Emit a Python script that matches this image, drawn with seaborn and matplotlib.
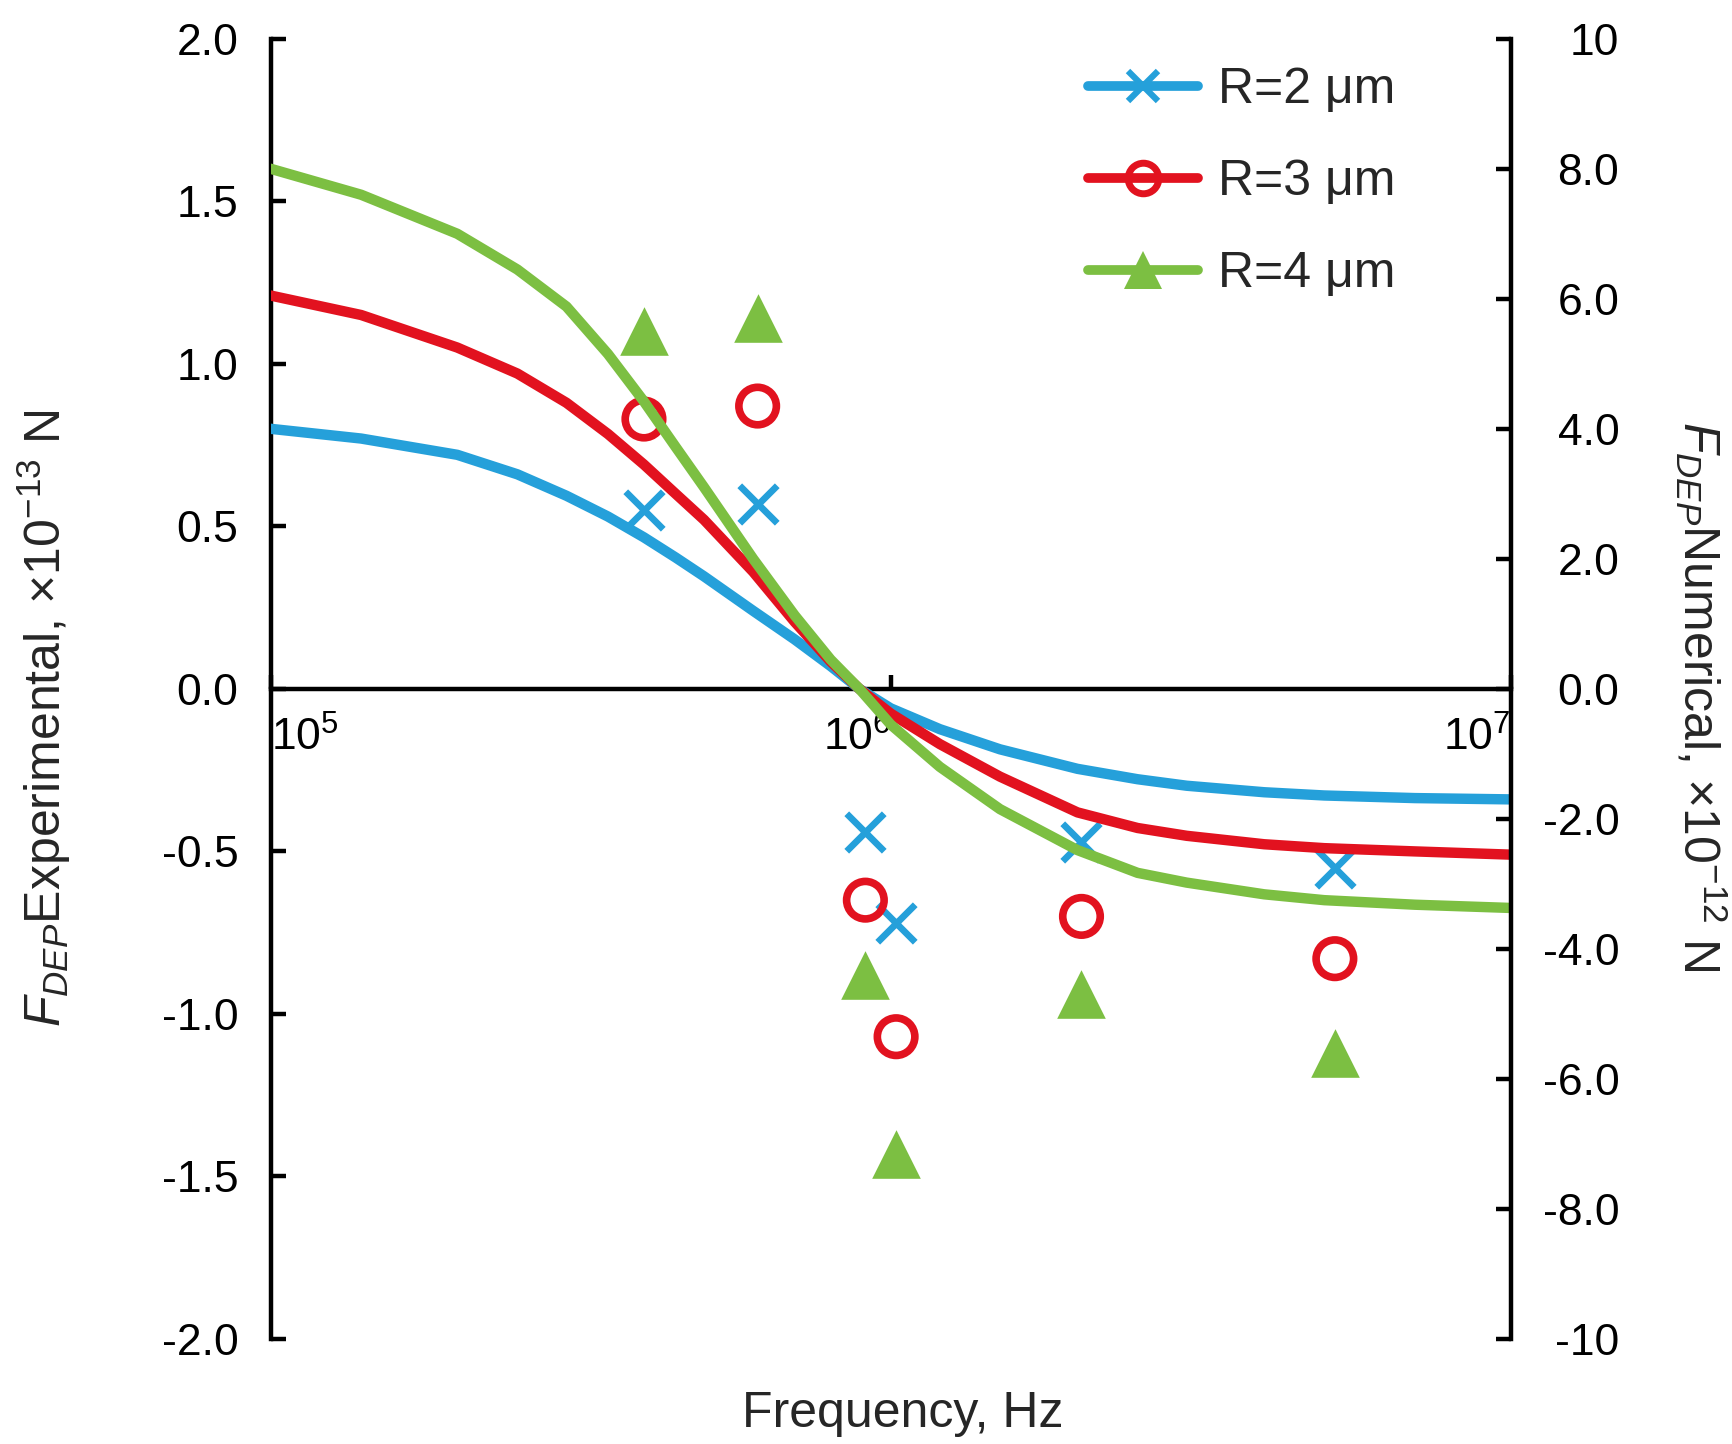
import numpy as np
import pandas as pd
import matplotlib
matplotlib.use("Agg")
import matplotlib.pyplot as plt
from matplotlib.lines import Line2D
import seaborn as sns

# numerical curves (right axis, x10^-12 N)
freq_num = [1e5, 1.4e5, 2e5, 2.5e5, 3e5, 3.5e5, 4e5, 4.5e5, 5e5, 6e5, 7e5, 8e5, 8.9e5,
            1e6, 1.2e6, 1.5e6, 2e6, 2.5e6, 3e6, 4e6, 5e6, 7e6, 1e7]
num_r2 = [4.00, 3.85, 3.60, 3.30, 2.97, 2.65, 2.33, 2.02, 1.73, 1.20, 0.76, 0.35, 0.0,
          -0.30, -0.62, -0.93, -1.23, -1.39, -1.49, -1.59, -1.64, -1.68, -1.70]
num_r3 = [6.05, 5.75, 5.25, 4.85, 4.40, 3.92, 3.45, 3.00, 2.60, 1.80, 1.03, 0.42, 0.0,
          -0.38, -0.85, -1.35, -1.90, -2.14, -2.26, -2.39, -2.45, -2.50, -2.55]
num_r4 = [8.00, 7.60, 7.00, 6.45, 5.88, 5.15, 4.42, 3.72, 3.10, 2.00, 1.13, 0.45, 0.0,
          -0.55, -1.20, -1.85, -2.48, -2.83, -2.98, -3.16, -3.25, -3.32, -3.37]

# experimental points (left axis, x10^-13 N)
freq_exp = [4.0e5, 6.1e5, 9.1e5, 1.02e6, 2.03e6, 5.2e6]
exp_r2 = [0.55, 0.57, -0.44, -0.72, -0.47, -0.55]
exp_r3 = [0.83, 0.87, -0.65, -1.07, -0.70, -0.83]
exp_r4 = [1.10, 1.14, -0.88, -1.43, -0.94, -1.12]

labels = ["R=2 μm", "R=3 μm", "R=4 μm"]
colors = ["#25a0da", "#e2121f", "#7cbf42"]

left_ticks = [-2.0, -1.5, -1.0, -0.5, 0.0, 0.5, 1.0, 1.5, 2.0]
right_ticks = [-10, -8, -6, -4, -2, 0, 2, 4, 6, 8, 10]
right_ticklabels = ["-10", "-8.0", "-6.0", "-4.0", "-2.0", "0.0", "2.0", "4.0", "6.0", "8.0", "10"]

sns.set_theme(style="white")
plt.rcParams["font.family"] = ["Liberation Sans", "DejaVu Sans"]
plt.rcParams["mathtext.fontset"] = "custom"
plt.rcParams["mathtext.rm"] = "Liberation Sans"
plt.rcParams["mathtext.it"] = "Liberation Sans:italic"
plt.rcParams["axes.unicode_minus"] = False

FS = 32      # tick labels
FL = 36      # axis titles and legend
lw_ax = 3.2

fig = plt.figure(figsize=(17.32, 14.44), dpi=100)
ax = fig.add_axes([0.1562, 0.0727, 0.7162, 0.9005])
ax.set_xscale("log")
ax2 = ax.twinx()

num = pd.DataFrame({
    "freq": freq_num * 3,
    "val": num_r2 + num_r3 + num_r4,
    "series": [labels[0]] * len(freq_num) + [labels[1]] * len(freq_num) + [labels[2]] * len(freq_num),
})
sns.lineplot(data=num, x="freq", y="val", hue="series", palette=dict(zip(labels, colors)),
             estimator=None, sort=False, linewidth=7.5, legend=False, ax=ax2)

# experimental markers
sns.scatterplot(x=freq_exp, y=exp_r2, marker="x", s=27 ** 2, color=colors[0], linewidth=4.8, ax=ax)
sns.scatterplot(x=freq_exp, y=exp_r3, marker="o", s=27 ** 2, facecolor="none", edgecolor=colors[1],
                linewidth=5.5, ax=ax)
sns.scatterplot(x=freq_exp, y=exp_r4, marker="^", s=35 ** 2, color=colors[2], linewidth=0, ax=ax)

ax.set_xlim(1e5, 1e7)
ax.set_ylim(-2, 2)
ax2.set_ylim(-10, 10)
ax.set_xlabel("")
ax.set_ylabel("")
ax2.set_ylabel("")

# spines
ax.spines["top"].set_visible(False)
ax2.spines["top"].set_visible(False)
ax2.spines["bottom"].set_visible(False)
ax2.spines["left"].set_visible(False)
ax.spines["right"].set_visible(False)
ax.spines["bottom"].set_position(("data", 0))
for s in [ax.spines["left"], ax.spines["bottom"], ax2.spines["right"]]:
    s.set_color("black")
    s.set_linewidth(lw_ax)

# x ticks
ax.set_xticks([1e5, 1e6, 1e7])
ax.xaxis.set_minor_locator(matplotlib.ticker.NullLocator())
ax.set_xticklabels([r"$10^{5}$", r"$10^{6}$", r"$10^{7}$"])
ax.tick_params(axis="x", direction="in", length=10, width=lw_ax, pad=20, labelsize=FS, colors="black",
               bottom=True)
xt = ax.get_xticklabels()
xt[0].set_ha("left")
xt[1].set_ha("right")
xt[2].set_ha("right")

# left y
ax.set_yticks(left_ticks)
ax.set_yticklabels([f"{v:.1f}" for v in left_ticks])
ax.tick_params(axis="y", direction="in", length=11, width=lw_ax, pad=23, labelsize=FS, colors="black",
               left=True)

# right y
ax2.set_yticks(right_ticks)
ax2.set_yticklabels(right_ticklabels)
ax2.tick_params(axis="y", direction="in", length=11, width=lw_ax, pad=78, labelsize=FS, colors="black",
                right=True)
for t in ax2.get_yticklabels():
    t.set_ha("right")
ax.grid(False)
ax2.grid(False)

fig.text(903 / 1732, 1 - 1414 / 1444, "Frequency, Hz", fontsize=FL, ha="center", va="center")
fig.text(44 / 1732, 1 - 718 / 1444, r"$F_{DEP}$Experimental, ×10$^{-13}$ N", fontsize=FL,
         rotation=90, ha="center", va="center")
fig.text(1701 / 1732, 1 - 696 / 1444, r"$F_{DEP}$Numerical, ×10$^{-12}$ N", fontsize=FL,
         rotation=270, ha="center", va="center")

handles = [
    Line2D([], [], color=colors[0], lw=7, marker="x", markersize=22, mew=4.5),
    Line2D([], [], color=colors[1], lw=7, marker="o", markersize=22, mew=5, mfc="none"),
    Line2D([], [], color=colors[2], lw=7, marker="^", markersize=27, mew=0),
]
ax2.legend(handles=handles, labels=labels, loc="upper left", bbox_to_anchor=(1088 / 1732, 1 - 67 / 1444),
           bbox_transform=fig.transFigure, frameon=False, fontsize=FL, handlelength=2.2,
           handletextpad=0.4, labelspacing=0.92, borderpad=0, borderaxespad=0)

fig.savefig("out.png", dpi=100)
